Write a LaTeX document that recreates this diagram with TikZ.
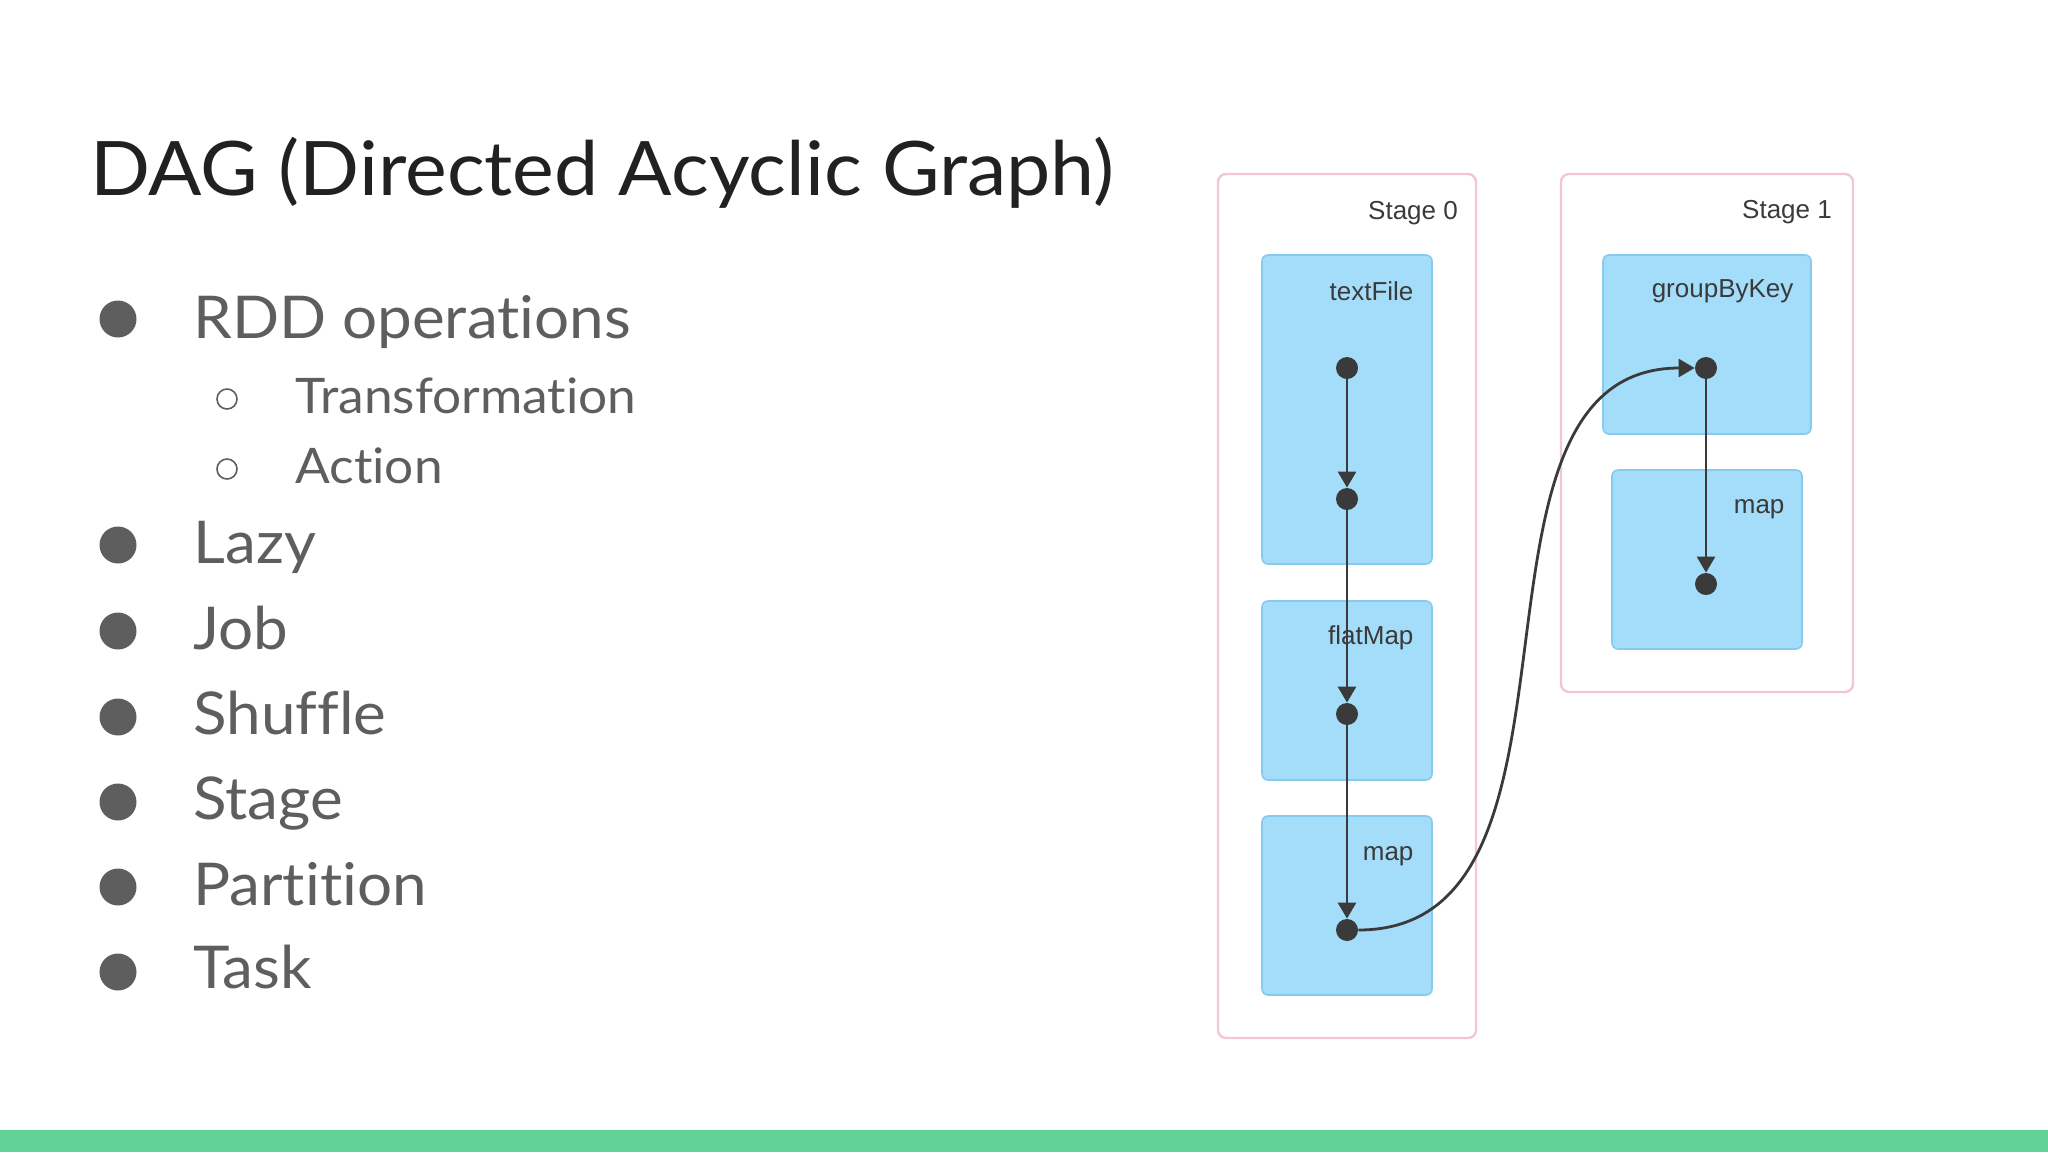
\documentclass[tikz,border=0pt]{standalone}
\usepackage{fontspec}
\setmainfont{Lato}[Ligatures=NoCommon, FakeStretch=1.05]
\newfontfamily\uifont{Liberation Sans}
\usetikzlibrary{arrows.meta, positioning, fit}
\usepackage{xcolor}
\definecolor{titleink}{HTML}{212121}
\definecolor{bodyink}{HTML}{5E5E5E}
\definecolor{stageline}{HTML}{F3C6D2}
\definecolor{opfill}{HTML}{A4DDFA}
\definecolor{opline}{HTML}{86CBEF}
\definecolor{flowink}{HTML}{3A3A3A}
\definecolor{footer}{HTML}{63D297}

\begin{document}
\begin{tikzpicture}[
    x=0.5pt, y=-0.5pt,
    heading/.style={anchor=base west, inner sep=0pt, font=\fontsize{37.6}{44}\selectfont, text=titleink},
    item/.style={anchor=base west, inner sep=0pt, font=\fontsize{29.5}{35}\selectfont, text=bodyink},
    subitem/.style={anchor=base west, inner sep=0pt, font=\fontsize{24.5}{30}\selectfont, text=bodyink},
    dotbullet/.style={circle, fill=bodyink, inner sep=0pt, minimum size=18.5pt},
    ringbullet/.style={circle, draw=bodyink, line width=0.8pt, inner sep=0pt, minimum size=10pt},
    stagebox/.style={draw=stageline, line width=1.2pt, rounded corners=4pt, inner sep=0pt},
    opbox/.style={draw=opline, fill=opfill, line width=0.8pt, rounded corners=3pt, inner sep=0pt},
    lbl/.style={anchor=east, inner sep=0pt, font=\uifont\fontsize{13}{15}\selectfont, text=flowink},
    rdd/.style={circle, fill=flowink, inner sep=0pt, minimum size=11pt},
    arr/.style={-{Triangle[length=8pt, width=9pt]}, draw=flowink, line width=1.4pt}
]
    \useasboundingbox (0,0) rectangle (2048,1152);
    \fill[footer] (0,1130) rectangle (2048,1152);

    % left column
    \node[heading] (title) at (90,195) {DAG (Directed Acyclic Graph)};

    \node[dotbullet] (b1) at (118,319) {};
    \node[item] (ops) at (193,338) {RDD operations};
    \node[ringbullet] (s1) at (227,399) {};
    \node[subitem] (trans) at (295,413) {Transformation};
    \node[ringbullet] (s2) at (227,469) {};
    \node[subitem] (act) at (295,483) {Action};
    \node[dotbullet] (b2) at (118,545) {};
    \node[item] (lazy) at (193,563) {Lazy};
    \node[dotbullet] (b3) at (118,631) {};
    \node[item] (job) at (193,649) {Job};
    \node[dotbullet] (b4) at (118,717) {};
    \node[item] (shuffle) at (193,734) {Shuffle};
    \node[dotbullet] (b5) at (118,802) {};
    \node[item] (stage) at (193,819) {Stage};
    \node[dotbullet] (b6) at (118,887) {};
    \node[item] (part) at (193,905) {Partition};
    \node[dotbullet] (b7) at (118,972) {};
    \node[item] (task) at (193,988) {Task};

    % stages
    \node[stagebox, fit={(1218,174) (1476,1038)}] (st0) {};
    \node[stagebox, fit={(1561,174) (1853,692)}] (st1) {};
    \node[lbl] at ([xshift=-9.5pt, yshift=-20pt]st0.north east) {Stage 0};
    \node[lbl] at ([xshift=-11pt, yshift=-19.5pt]st1.north east) {Stage 1};

    % operations
    \node[opbox, fit={(1262,255) (1432,564)}] (textfile) {};
    \node[opbox, fit={(1262,601) (1432,780)}] (flatmap) {};
    \node[opbox, fit={(1262,816) (1432,995)}] (map0) {};
    \node[opbox, fit={(1603,255) (1811,434)}] (group) {};
    \node[opbox, fit={(1612,470) (1802,649)}] (map1) {};

    \node[lbl] at ([xshift=-9.5pt, yshift=-18.5pt]textfile.north east) {textFile};
    \node[lbl] at ([xshift=-9.5pt, yshift=-19pt]flatmap.north east) {flatMap};
    \node[lbl] at ([xshift=-9.5pt, yshift=-20.5pt]map0.north east) {map};
    \node[lbl] at ([xshift=-9pt, yshift=-18.5pt]group.north east) {groupByKey};
    \node[lbl] at ([xshift=-9pt, yshift=-20pt]map1.north east) {map};

    % rdds
    \node[rdd] (r1) at (1347,368) {};
    \node[rdd] (r2) at (1347,499) {};
    \node[rdd] (r3) at (1347,714) {};
    \node[rdd] (r4) at (1347,930) {};
    \node[rdd] (r5) at (1706,368) {};
    \node[rdd] (r6) at (1706,584) {};

    \draw[arr] (r1) -- (r2);
    \draw[arr] (r2) -- (r3);
    \draw[arr] (r3) -- (r4);
    \draw[arr] (r4) to[out=0, in=180] (r5);
    \draw[arr] (r5) -- (r6);
\end{tikzpicture}
\end{document}
